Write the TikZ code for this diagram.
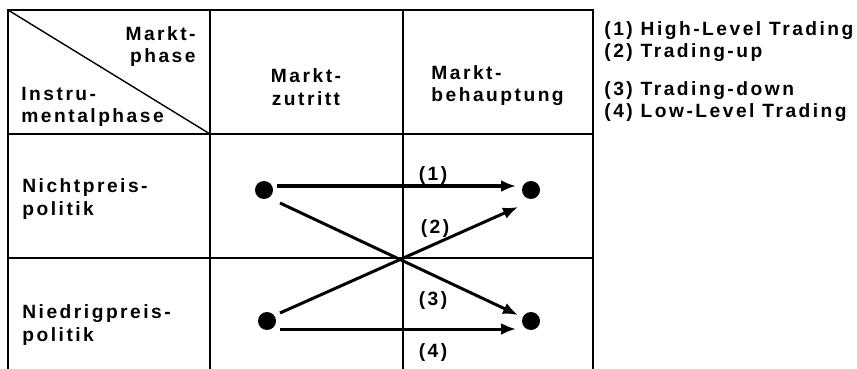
\documentclass[tikz,border=0pt]{standalone}
\usepackage{fontspec}
\setmainfont{Liberation Sans}[LetterSpace=13]
\usetikzlibrary{arrows.meta,positioning}
\tikzset{
  grid/.style={line width=0.7pt,draw=black},
  txt/.style={font=\fontsize{9.6}{11.2}\selectfont\bfseries,inner sep=0pt},
  dot/.style={circle,fill=black,inner sep=0pt,minimum size=9pt},
  arr/.style={-{Latex[length=7.5pt,width=6pt]},line width=1.5pt},
}

\begin{document}
\begin{tikzpicture}[x=0.5pt,y=-0.5pt]
  \useasboundingbox (0,0) rectangle (857,369);
  % Tabelle
  \draw[grid] (8,369) -- (8,10) -- (593,10) -- (593,369);
  \draw[grid] (210,10) -- (210,369);
  \draw[grid] (403,10) -- (403,369);
  \draw[grid] (8,134) -- (593,134);
  \draw[grid] (8,258) -- (593,258);
  \draw[grid] (8,10) -- (210,134);
  % Kopfzeile
  \node[txt,align=right,anchor=base east] (mp) at (196,63) {Markt-\\phase};
  \node[txt,align=left,anchor=base west] (ip) at (21,123) {Instru-\\mentalphase};
  \node[txt,align=center,anchor=base] (mz) at (306,105) {Markt-\\zutritt};
  \node[txt,align=left,anchor=base west] (mb) at (431,102) {Markt-\\behauptung};
  % Zeilen
  \node[txt,align=left,anchor=base west] (np) at (22,215) {Nichtpreis-\\politik};
  \node[txt,align=left,anchor=base west] (dp) at (22,341) {Niedrigpreis-\\politik};
  % Punkte
  \node[dot] (A) at (264,190) {};
  \node[dot] (B) at (531,190) {};
  \node[dot] (C) at (267,321) {};
  \node[dot] (D) at (531,321) {};
  \draw[arr] ([shift={(13,-4)}]A.center) -- ([shift={(-15,-4)}]B.center);
  \draw[arr] ([shift={(13,-8)}]C.center) -- ([shift={(-13,17)}]B.center);
  \draw[arr] ([shift={(16,13)}]A.center) -- ([shift={(-13,-6)}]D.center);
  \draw[arr] ([shift={(13,8)}]C.center) -- ([shift={(-15,8)}]D.center);
  \node[txt,anchor=base] (l1) at (433,180) {(1)};
  \node[txt,anchor=base] (l2) at (435,234) {(2)};
  \node[txt,anchor=base] (l3) at (433,305) {(3)};
  \node[txt,anchor=base] (l4) at (433,357) {(4)};
  % Legende
  \node[txt,align=left,anchor=base west] (lg1) at (604,58) {(1) High-Level Trading\\(2) Trading-up};
  \node[txt,align=left,anchor=base west] (lg2) at (604,118) {(3) Trading-down\\(4) Low-Level Trading};
\end{tikzpicture}
\end{document}
